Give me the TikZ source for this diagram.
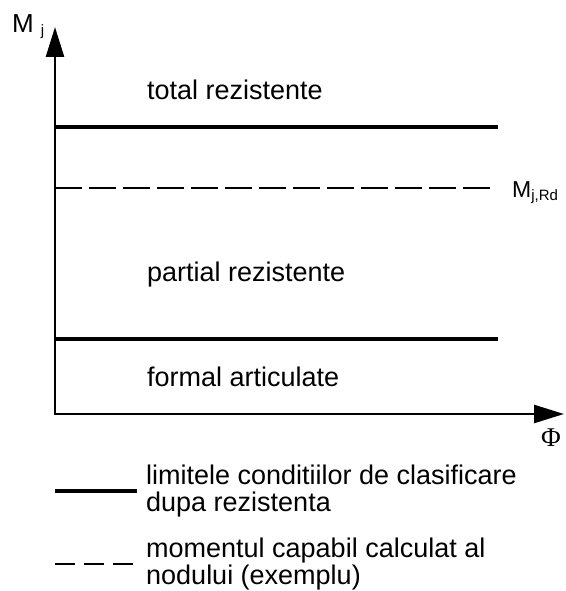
\documentclass[tikz,border=0pt]{standalone}
\usepackage{fontspec}
\setmainfont{Liberation Sans}
\newfontfamily\phifont{Liberation Serif}
\usetikzlibrary{arrows.meta, positioning}
\tikzstyle{axis} = [line width=2.6pt, {Triangle[length=30pt,width=18pt]}-{Triangle[length=30pt,width=18pt]}]
\tikzstyle{limit} = [line width=4pt]
\tikzstyle{capable} = [line width=1.5pt, dash pattern=on 27pt off 7pt]
\tikzstyle{legdash} = [line width=1.5pt, dash pattern=on 20pt off 9pt]
\tikzstyle{label} = [inner sep=0pt, font=\fontsize{27}{27}\selectfont]

\begin{document}
\begin{tikzpicture}[x=1pt, y=-1pt]
    \useasboundingbox (0,0) rectangle (565,591);

    % Axes
    \coordinate (origin) at (55,414);
    \coordinate (ytip) at (55,27);
    \coordinate (xtip) at (564,414);
    \draw [axis] (ytip) -- (origin) -- (xtip);
    \node (mj) [label, anchor=base west, font=\fontsize{26}{26}\selectfont] at (12,33) {M\hspace{7pt}\raisebox{-3pt}{\fontsize{15}{15}\selectfont j}};
    \node (phi) [label, anchor=base, font=\fontsize{27}{27}\phifont] at (551,446) {Φ};

    % Classification limits
    \coordinate (lim1a) at (55,127);
    \coordinate (lim1b) at (498,127);
    \coordinate (lim2a) at (55,339);
    \coordinate (lim2b) at (498,339);
    \draw [limit] (lim1a) -- (lim1b);
    \draw [limit] (lim2a) -- (lim2b);

    % Design moment
    \coordinate (mrda) at (55,188);
    \coordinate (mrdb) at (492,188);
    \draw [capable] (mrda) -- (mrdb);
    \node (mjrd) [label, anchor=base west, font=\fontsize{23}{23}\selectfont] at (512,197) {M\raisebox{-3pt}{\fontsize{15}{15}\selectfont j,Rd}};

    % Zones
    \node (total) [label, anchor=base west] at (147,100) {total rezistente};
    \node (partial) [label, anchor=base west] at (147,281) {partial rezistente};
    \node (formal) [label, anchor=base west] at (147,386) {formal articulate};

    % Legend
    \coordinate (leg1a) at (55,491);
    \coordinate (leg1b) at (137,491);
    \draw [limit] (leg1a) -- (leg1b);
    \node (legtxt1) [label, right=9pt of leg1b, align=left] {limitele conditiilor de clasificare\\dupa rezistenta};
    \coordinate (leg2a) at (55,564);
    \coordinate (leg2b) at (137,564);
    \draw [legdash] (leg2a) -- (leg2b);
    \node (legtxt2) [label, right=9pt of leg2b, align=left] {momentul capabil calculat al\\nodului (exemplu)};

\end{tikzpicture}
\end{document}
